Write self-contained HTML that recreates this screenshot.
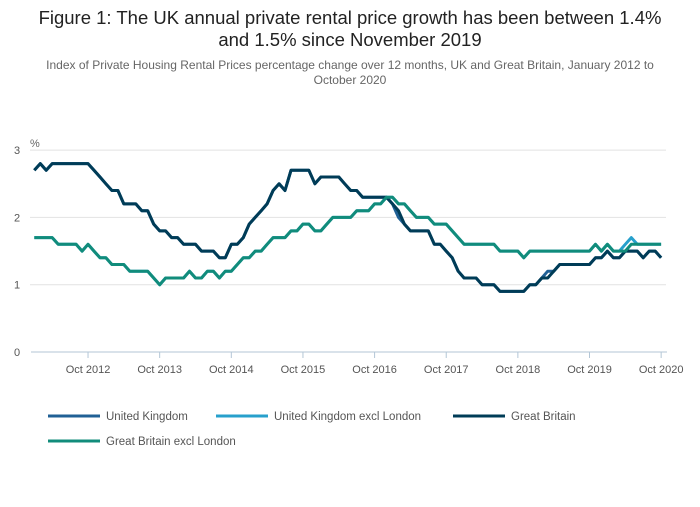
<!DOCTYPE html>
<html><head><meta charset="utf-8"><style>
body{margin:0;background:#fff;width:700px;height:502px;overflow:hidden;font-family:"Liberation Sans",sans-serif}
</style></head><body>
<svg width="700" height="502" xmlns="http://www.w3.org/2000/svg">
<text x="350" y="24" text-anchor="middle" font-size="18.5" fill="#222">Figure 1: The UK annual private rental price growth has been between 1.4%</text>
<text x="350" y="46" text-anchor="middle" font-size="18.5" fill="#222">and 1.5% since November 2019</text>
<text x="350" y="69" text-anchor="middle" font-size="12" fill="#666">Index of Private Housing Rental Prices percentage change over 12 months, UK and Great Britain, January 2012 to</text>
<text x="350" y="84" text-anchor="middle" font-size="12" fill="#666">October 2020</text>
<text x="30" y="147" font-size="11" fill="#666">%</text>
<g id="grid"></g><g id="xaxis"></g><g id="series"></g>
<g>
<g><line x1="48" y1="416" x2="100" y2="416" stroke="#206095" stroke-width="3"/><text x="106" y="420" font-size="11.5" fill="#555">United Kingdom</text></g>
<g><line x1="216" y1="416" x2="268" y2="416" stroke="#27a0cc" stroke-width="3"/><text x="274" y="420" font-size="11.5" fill="#555">United Kingdom excl London</text></g>
<g><line x1="453" y1="416" x2="505" y2="416" stroke="#003c57" stroke-width="3"/><text x="511" y="420" font-size="11.5" fill="#555">Great Britain</text></g>
<g><line x1="48" y1="441" x2="100" y2="441" stroke="#118c7b" stroke-width="3"/><text x="106" y="445" font-size="11.5" fill="#555">Great Britain excl London</text></g>
</g>
</svg>
<script>
const yTicks=[0,1,2,3];
const xTickLabels=["Oct 2012","Oct 2013","Oct 2014","Oct 2015","Oct 2016","Oct 2017","Oct 2018","Oct 2019","Oct 2020"];
const xTickIndex=[9,21,33,45,57,69,81,93,105];
const gb=[2.7,2.8,2.7,2.8,2.8,2.8,2.8,2.8,2.8,2.8,2.7,2.6,
2.5,2.4,2.4,2.2,2.2,2.2,2.1,2.1,1.9,1.8,1.8,1.7,
1.7,1.6,1.6,1.6,1.5,1.5,1.5,1.4,1.4,1.6,1.6,1.7,
1.9,2.0,2.1,2.2,2.4,2.5,2.4,2.7,2.7,2.7,2.7,2.5,
2.6,2.6,2.6,2.6,2.5,2.4,2.4,2.3,2.3,2.3,2.3,2.3,
2.2,2.1,1.9,1.8,1.8,1.8,1.8,1.6,1.6,1.5,1.4,1.2,
1.1,1.1,1.1,1.0,1.0,1.0,0.9,0.9,0.9,0.9,0.9,1.0,
1.0,1.1,1.1,1.2,1.3,1.3,1.3,1.3,1.3,1.3,1.4,1.4,
1.5,1.4,1.4,1.5,1.5,1.5,1.4,1.5,1.5,1.4];
const uk=[2.7,2.8,2.7,2.8,2.8,2.8,2.8,2.8,2.8,2.8,2.7,2.6,
2.5,2.4,2.4,2.2,2.2,2.2,2.1,2.1,1.9,1.8,1.8,1.7,
1.7,1.6,1.6,1.6,1.5,1.5,1.5,1.4,1.4,1.6,1.6,1.7,
1.9,2.0,2.1,2.2,2.4,2.5,2.4,2.7,2.7,2.7,2.7,2.5,
2.6,2.6,2.6,2.6,2.5,2.4,2.4,2.3,2.3,2.3,2.3,2.3,
2.2,2.0,1.9,1.8,1.8,1.8,1.8,1.6,1.6,1.5,1.4,1.2,
1.1,1.1,1.1,1.0,1.0,1.0,0.9,0.9,0.9,0.9,0.9,1.0,
1.0,1.1,1.2,1.2,1.3,1.3,1.3,1.3,1.3,1.3,1.4,1.4,
1.5,1.4,1.4,1.5,1.5,1.5,1.4,1.5,1.5,1.4];
const gbx=[1.7,1.7,1.7,1.7,1.6,1.6,1.6,1.6,1.5,1.6,1.5,1.4,
1.4,1.3,1.3,1.3,1.2,1.2,1.2,1.2,1.1,1.0,1.1,1.1,
1.1,1.1,1.2,1.1,1.1,1.2,1.2,1.1,1.2,1.2,1.3,1.4,
1.4,1.5,1.5,1.6,1.7,1.7,1.7,1.8,1.8,1.9,1.9,1.8,
1.8,1.9,2.0,2.0,2.0,2.0,2.1,2.1,2.1,2.2,2.2,2.3,
2.3,2.2,2.2,2.1,2.0,2.0,2.0,1.9,1.9,1.9,1.8,1.7,
1.6,1.6,1.6,1.6,1.6,1.6,1.5,1.5,1.5,1.5,1.4,1.5,
1.5,1.5,1.5,1.5,1.5,1.5,1.5,1.5,1.5,1.5,1.6,1.5,
1.6,1.5,1.5,1.5,1.6,1.6,1.6,1.6,1.6,1.6];
const ukx=[1.7,1.7,1.7,1.7,1.6,1.6,1.6,1.6,1.5,1.6,1.5,1.4,
1.4,1.3,1.3,1.3,1.2,1.2,1.2,1.2,1.1,1.0,1.1,1.1,
1.1,1.1,1.2,1.1,1.1,1.2,1.2,1.1,1.2,1.2,1.3,1.4,
1.4,1.5,1.5,1.6,1.7,1.7,1.7,1.8,1.8,1.9,1.9,1.8,
1.8,1.9,2.0,2.0,2.0,2.0,2.1,2.1,2.1,2.2,2.2,2.3,
2.3,2.2,2.2,2.1,2.0,2.0,2.0,1.9,1.9,1.9,1.8,1.7,
1.6,1.6,1.6,1.6,1.6,1.6,1.5,1.5,1.5,1.5,1.4,1.5,
1.5,1.5,1.5,1.5,1.5,1.5,1.5,1.5,1.5,1.5,1.6,1.5,
1.6,1.5,1.5,1.6,1.7,1.6,1.6,1.6,1.6,1.6];
const NS="http://www.w3.org/2000/svg";
const x0=34.3,step=5.97,yb=352,yu=67.3;
const X=i=>x0+i*step, Y=v=>yb-v*yu;
function mk(t,a,p){const e=document.createElementNS(NS,t);for(const k in a)e.setAttribute(k,a[k]);p.appendChild(e);return e;}
const grid=document.getElementById('grid');
yTicks.forEach(v=>{
 if(v>0){const l=mk('line',{x1:30,x2:666,y1:Y(v),y2:Y(v),stroke:'#e2e2e2','stroke-width':1},grid);
 
 }
 const t=mk('text',{x:14,y:Y(v)+4,'font-size':11,fill:'#555'},grid);t.textContent=v;
 
 
});
const xa=document.getElementById('xaxis');
const ax=mk('line',{x1:31,x2:667,y1:yb,y2:yb,stroke:'#b3c6d6','stroke-width':1},xa);


xTickIndex.forEach((ix,k)=>{
 mk('line',{x1:X(ix),x2:X(ix),y1:yb,y2:yb+6,stroke:'#b3c6d6'},xa);
 const t=mk('text',{x:X(ix),y:yb+21,'font-size':11,fill:'#555','text-anchor':'middle'},xa);t.textContent=xTickLabels[k];
 
 
});
const sg=document.getElementById('series');
[[uk,'#206095','series-united-kingdom'],[ukx,'#27a0cc','series-uk-excl-london'],[gb,'#003c57','series-great-britain'],[gbx,'#118c7b','series-gb-excl-london']].forEach(([d,c,n])=>{
 const p=mk('path',{d:d.map((v,i)=>(i?'L':'M')+X(i).toFixed(1)+','+Y(v).toFixed(1)).join(''),fill:'none',stroke:c,'stroke-width':3,'stroke-linejoin':'round'},sg);
 
 
});
</script>
</body></html>
